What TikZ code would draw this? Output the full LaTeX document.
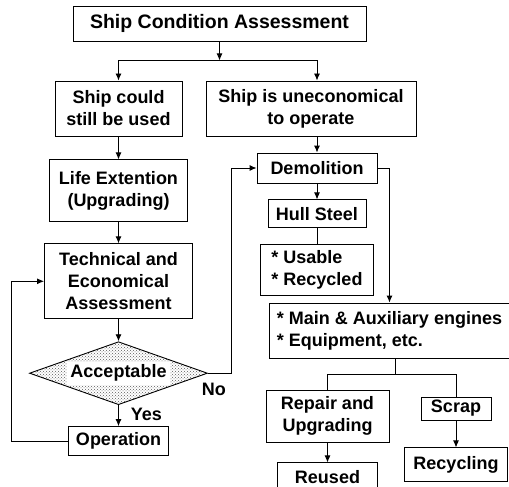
\documentclass[tikz,border=0pt]{standalone}
\usepackage{fontspec}
\setmainfont{Liberation Sans}
\usetikzlibrary{arrows,arrows.meta,positioning,shapes,patterns}

\begin{document}
\begin{tikzpicture}[x=1pt,y=-1pt,>={Latex[length=7pt,width=6pt]},line width=0.9pt]
	\tikzstyle{rect}=[draw, rectangle, align=center, inner sep=2pt, font=\fontsize{18pt}{22pt}\selectfont\bfseries]
	\tikzstyle{rect_l}=[rect, align=left]
	\tikzstyle{diam}=[draw, diamond, inner sep=0pt, pattern=crosshatch dots, pattern color=black!65]
	\tikzstyle{txt}=[inner sep=0pt, font=\fontsize{18pt}{22pt}\selectfont\bfseries]

	\useasboundingbox (0,0) rectangle (509,487);
	\clip (0,0) rectangle (509,487);

	\node[rect, minimum width=293pt, minimum height=35pt, font=\fontsize{19.5pt}{22pt}\selectfont\bfseries] (title) at (219.5,23.5) {Ship Condition Assessment};
	\node[rect, minimum width=127pt, minimum height=55pt] (used) at (118.5,108.5) {Ship could\\still be used};
	\node[rect, minimum width=210pt, minimum height=55pt] (unecon) at (311,108.5) {Ship is uneconomical\\to operate};
	\node[rect, minimum width=138pt, minimum height=62pt] (life) [below=23pt of used] {Life Extention\\(Upgrading)};
	\node[rect, minimum width=148pt, minimum height=75pt] (tech) [below=21pt of life] {Technical and\\Economical\\Assessment};
	\node[diam, minimum width=178pt, minimum height=63pt] (acc) [below=22pt of tech] {};
	\node[txt, fill=white, inner sep=3pt] (acctext) at (acc) {Acceptable};
	\node[rect, minimum width=100pt, minimum height=29pt] (oper) [below=21pt of acc] {Operation};

	\node[rect, minimum width=120pt, minimum height=30pt] (demol) at (317,168) {Demolition};
	\node[rect, minimum width=98pt, minimum height=28pt] (hull) [below=16pt of demol] {Hull Steel};
	\node[rect_l, minimum width=113pt, minimum height=51pt] (usable) [below=16pt of hull] {* Usable\\* Recycled};
	\node[rect_l, minimum width=241pt, minimum height=55pt] (main) at (389.5,330.5) {* Main \& Auxiliary engines\\* Equipment, etc.};
	\node[rect, minimum width=123pt, minimum height=52pt] (repair) at (327.5,416) {Repair and\\Upgrading};
	\node[rect, minimum width=70pt, minimum height=23pt] (scrap) at (456,408.5) {Scrap};
	\node[rect, minimum width=103pt, minimum height=34pt] (recyc) [below=27pt of scrap] {Recycling};
	\node[rect, minimum width=100pt, minimum height=28pt] (reused) [below=20pt of repair] {Reused};

	\node[txt] (no) [below=9pt of acc.east, xshift=6pt] {No};
	\node[txt] (yes) [below right=3pt and 12pt of acc.south] {Yes};

	\coordinate (split) at ([yshift=-19pt]title.south);
	\coordinate (fork) at ([xshift=6pt,yshift=-16pt]main.south);

	\draw[->] (title.south) -- (split);
	\draw[->] (split) -| (used.north);
	\draw[->] (split) -| (unecon.north -| demol.north);
	\draw[->] (used.south) -- (life.north);
	\draw[->] (life.south) -- (tech.north);
	\draw[->] (tech.south) -- (acc.north);
	\draw[->] (acc.east) -- ++(23,0) |- (demol.west);
	\draw[->] (acc.south) -- (oper.north);
	\draw[->] (oper.west) -- ++(-57,0) |- (tech.west);
	\draw[->] (unecon.south -| demol.north) -- (demol.north);
	\draw[->] (demol.south) -- (hull.north);
	\draw (hull.south) -- (usable.north);
	\draw[->] (demol.east) -| (main.north);
	\draw (main.south -| fork) -- (fork);
	\draw (repair.north) |- (fork) -| (scrap.north);
	\draw[->] (scrap.south) -- (recyc.north);
	\draw[->] (repair.south) -- (reused.north);
\end{tikzpicture}
\end{document}
